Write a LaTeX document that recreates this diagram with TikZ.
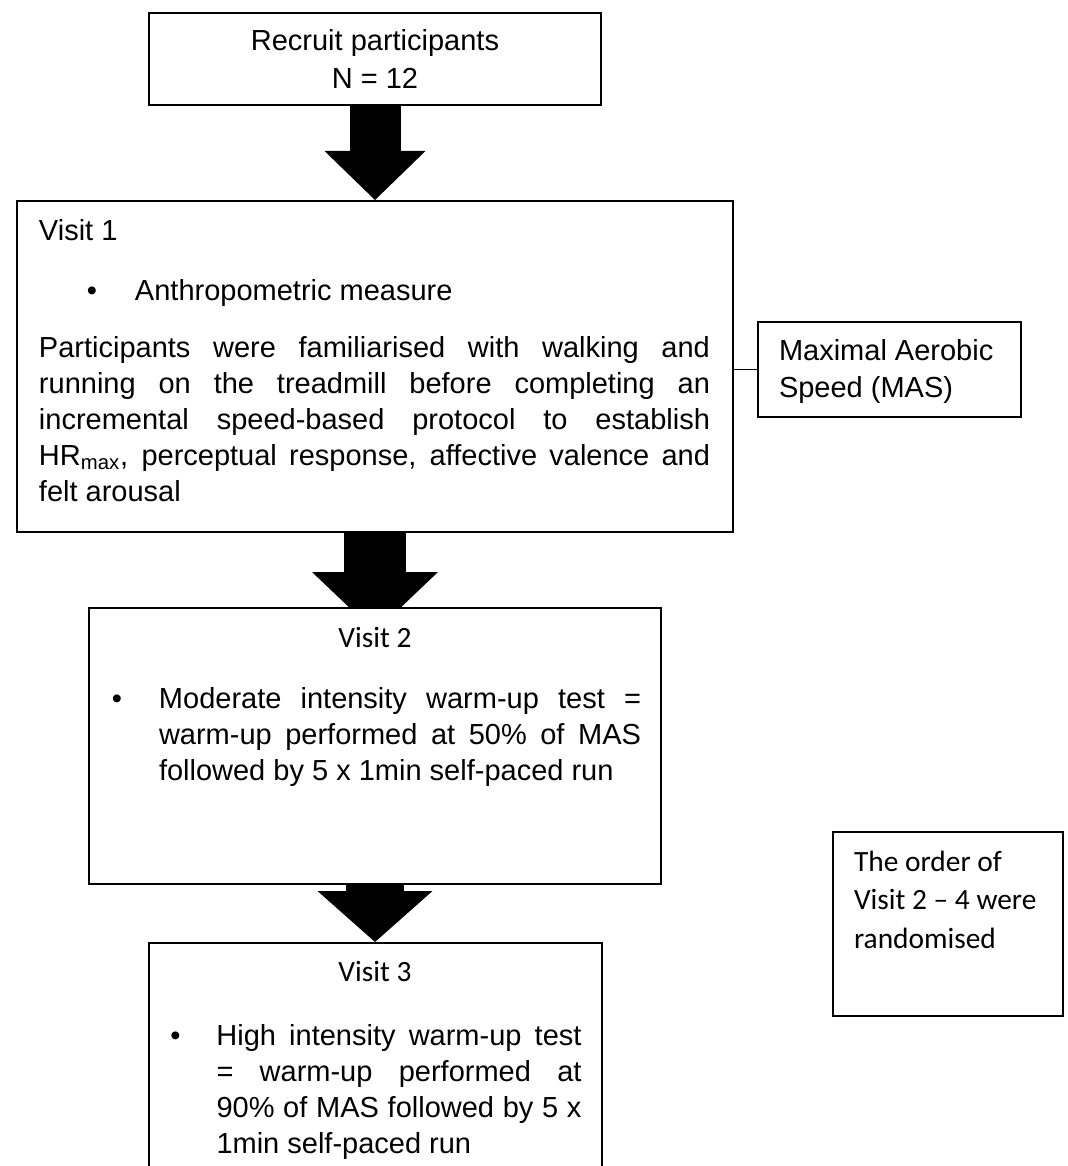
\documentclass[tikz,border=0pt]{standalone}
\usepackage{fontspec}
\setmainfont{Liberation Sans}
\newfontfamily\calibri{Carlito}
\usepackage{tikz}
\usetikzlibrary{arrows.meta, positioning, calc, backgrounds}

\tolerance=10000
\hyphenpenalty=10000
\exhyphenpenalty=10000

\newcommand{\arialtext}{\fontsize{14.5pt}{18pt}\selectfont}
\newcommand{\calibritext}{\calibri\fontsize{14.7pt}{19.25pt}\selectfont}
% text of a box: width, height, content from the top
\newcommand{\boxtext}[3]{\parbox[c][#2][t]{#1}{#3}}
% bullet at #1, text from #2 with width #3
\newcommand{\bulletitem}[4]{\noindent\hspace*{#1}\makebox[0pt]{\textbullet}\hspace*{\dimexpr#2-#1\relax}\parbox[t]{#3}{#4}}

\begin{document}
\begin{tikzpicture}[
    x=0.5pt, y=-0.5pt,
    box/.style={rectangle, draw, line width=1pt, fill=white, inner sep=0pt, anchor=north, font=\arialtext},
    arrow/.style n args={3}{line width=#1, -{Triangle[width=#2, length=#3, line width=0pt]}},
    link/.style={line width=0.5pt},
]
\useasboundingbox (0,0) rectangle (1067,1166);
\clip (0,0) rectangle (1067,1166);

% Recruitment
\node[box] (recruit) at (375,12) {\boxtext{226pt}{46pt}{\centering\rule{0pt}{19pt}Recruit participants\\[1pt]N = 12}};

% Visit 1
\node[box, below=47pt of recruit] (visit1) {\boxtext{358pt}{165.5pt}{\leftskip=11pt \rightskip=11.5pt
    \rule{0pt}{19.5pt}Visit 1\par
    \vspace{12pt}
    \bulletitem{26.5pt}{48pt}{250pt}{Anthropometric measure}\par
    \vspace{10.5pt}
    Participants were familiarised with walking and\linebreak
    running on the treadmill before completing an\linebreak
    incremental speed-based protocol to establish\linebreak
    HR\textsubscript{max}, perceptual response, affective valence and\linebreak
    felt arousal}};
\node[box, right=11.5pt of visit1, yshift=-1.5pt] (mas) {\boxtext{131.5pt}{47.5pt}{\leftskip=10.5pt
    \rule{0pt}{19pt}Maximal Aerobic\\[0.5pt]Speed (MAS)}};

% Visit 2
\node[box, below=37pt of visit1] (visit2) {\boxtext{286pt}{138pt}{%
    {\centering\calibritext\rule{0pt}{19.5pt}Visit 2\par}
    \vspace{12.5pt}
    \bulletitem{14pt}{35pt}{241pt}{Moderate intensity warm-up test =\linebreak
    warm-up performed at 50\% of MAS\linebreak
    followed by 5 x 1min self-paced run}}};

% Visit 3
\node[box, below=28.5pt of visit2] (visit3) {\boxtext{226.5pt}{130pt}{%
    {\centering\calibritext\rule{0pt}{19pt}Visit 3\par}
    \vspace{14pt}
    \bulletitem{13.5pt}{34pt}{182.5pt}{High intensity warm-up test\linebreak
    = warm-up performed at\linebreak
    90\% of MAS followed by 5 x\linebreak
    1min self-paced run}}};

% Randomisation note
\node[box] (order) at (948,831) {\boxtext{115pt}{92pt}{\leftskip=10.5pt\calibritext
    \rule{0pt}{19.5pt}The order of\\Visit 2 – 4 were\\randomised}};

% Connectors
\draw[link] (mas.west -| visit1.east) -- (mas.west);
\begin{scope}[on background layer]
    \draw[arrow={25.5pt}{50.5pt}{24.5pt}] (recruit.south) -- (visit1.north);
    \draw[arrow={31pt}{63pt}{30pt}] (visit1.south) -- ($(visit2.north)+(0,25)$);
    \draw[arrow={29pt}{57.5pt}{25.5pt}] (visit2.south) -- (visit3.north);
\end{scope}

\end{tikzpicture}
\end{document}
